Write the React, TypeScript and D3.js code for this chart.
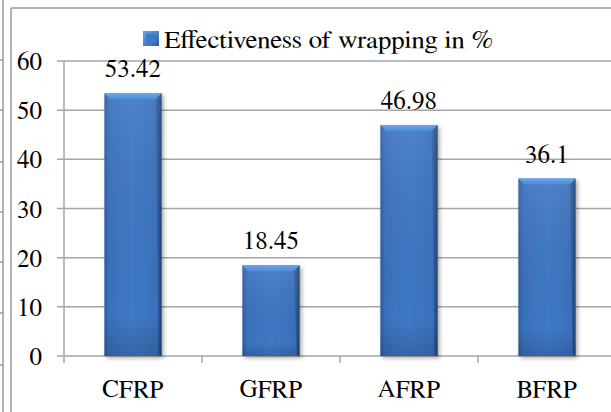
import React from "react";
import * as d3 from "d3";

const categories = ["CFRP", "GFRP", "AFRP", "BFRP"];
const values = [53.42, 18.45, 46.98, 36.1];
const valueLabels = ["53.42", "18.45", "46.98", "36.1"];
const yTicks = [0, 10, 20, 30, 40, 50, 60];
const seriesName = "Effectiveness of wrapping in %";
const frameStubs = [60, 110, 162, 212, 262, 313, 365];

export default function App() {
  const W = 611, H = 412;
  const y = d3.scaleLinear().domain([0, 60]).range([356, 61]);
  const x = d3.scaleBand<string>().domain(categories).range([64, 616]).padding(0);
  const bw = x.bandwidth() * 0.415;
  const font = "FreeSerif, 'Liberation Serif', 'Times New Roman', serif";
  const grid = "#a6a6a6";
  const fs = 25;
  return (
    <svg width={W} height={H} style={{ position: "absolute", left: 0, top: 0, background: "#fff" }}>
      <defs>
        <linearGradient id="barH" x1="0" x2="1" y1="0" y2="0">
          <stop offset="0" stopColor="#2d5d9e" />
          <stop offset="0.08" stopColor="#3a70bb" />
          <stop offset="0.5" stopColor="#3f79c6" />
          <stop offset="0.92" stopColor="#3a70bb" />
          <stop offset="1" stopColor="#234d85" />
        </linearGradient>
        <linearGradient id="barV" x1="0" x2="0" y1="0" y2="1">
          <stop offset="0" stopColor="#ffffff" stopOpacity="0.08" />
          <stop offset="0.85" stopColor="#000000" stopOpacity="0" />
          <stop offset="1" stopColor="#000000" stopOpacity="0.15" />
        </linearGradient>
        <linearGradient id="bevel" x1="0" x2="0" y1="0" y2="1">
          <stop offset="0" stopColor="#6aa5e8" />
          <stop offset="1" stopColor="#4f8bd6" />
        </linearGradient>
        <linearGradient id="legendG" x1="0" x2="1" y1="0" y2="1">
          <stop offset="0" stopColor="#6aa5e8" />
          <stop offset="1" stopColor="#2d5d9e" />
        </linearGradient>
        <filter id="shadow" x="-20%" y="-10%" width="150%" height="130%">
          <feGaussianBlur in="SourceAlpha" stdDeviation="2" />
          <feOffset dx="2" dy="2" result="ob" />
          <feComponentTransfer><feFuncA type="linear" slope="0.35" /></feComponentTransfer>
          <feMerge><feMergeNode /><feMergeNode in="SourceGraphic" /></feMerge>
        </filter>
      </defs>

      {/* outer frame pieces */}
      <line x1={3} x2={3} y1={0} y2={H} stroke="#9a9a9a" strokeWidth={1.5} />
      {frameStubs.map((s) => (
        <line key={s} x1={0} x2={3} y1={s} y2={s} stroke="#9a9a9a" strokeWidth={1.5} />
      ))}
      <line x1={11} x2={11} y1={8} y2={H} stroke="#9a9a9a" strokeWidth={1.5} />
      <line x1={11} x2={W} y1={8} y2={8} stroke="#9a9a9a" strokeWidth={1.5} />

      {/* gridlines */}
      {yTicks.map((t) => (
        <g key={t}>
          <line x1={57} x2={W} y1={y(t)} y2={y(t)} stroke={grid} strokeWidth={1.5} />
          <text x={42} y={y(t) + 9} textAnchor="end" fontFamily={font} fontSize={fs} fill="#000">
            {t}
          </text>
        </g>
      ))}
      <line x1={64} x2={64} y1={y(60)} y2={y(0) + 7} stroke={grid} strokeWidth={1.5} />
      {categories.map((c, i) =>
        i > 0 ? (
          <line key={c} x1={x(c)!} x2={x(c)!} y1={y(0)} y2={y(0) + 7} stroke={grid} strokeWidth={1.5} />
        ) : null
      )}

      {/* bars */}
      {categories.map((c, i) => {
        const cx = x(c)! + x.bandwidth() / 2;
        const x0 = cx - bw / 2;
        const top = y(values[i]);
        const h = y(0) - top;
        const bv = 6;
        return (
          <g key={c}>
            <g filter="url(#shadow)">
              <rect x={x0} y={top} width={bw} height={h} fill="url(#barH)" />
            </g>
            <rect x={x0} y={top} width={bw} height={h} fill="url(#barV)" />
            <polygon
              points={`${x0},${top} ${x0 + bw},${top} ${x0 + bw - bv},${top + bv} ${x0 + bv},${top + bv}`}
              fill="url(#bevel)"
            />
            <polygon
              points={`${x0 + bw},${top} ${x0 + bw},${top + h} ${x0 + bw - 3},${top + h - 3} ${x0 + bw - bv},${top + bv}`}
              fill="#000" opacity={0.12}
            />
            <text x={cx} y={top - 16} textAnchor="middle" fontFamily={font} fontSize={fs} fill="#000">
              {valueLabels[i]}
            </text>
            <text x={cx} y={397} textAnchor="middle" fontFamily={font} fontSize={fs} fill="#000">
              {c}
            </text>
          </g>
        );
      })}

      {/* legend */}
      <rect x={143} y={31} width={16} height={15} fill="url(#legendG)" />
      <rect x={146} y={34} width={10} height={9} fill="#3f79c6" />
      <text x={164} y={48} fontFamily={font} fontSize={fs} fill="#000" textLength={329} lengthAdjust="spacingAndGlyphs">
        {seriesName}
      </text>
    </svg>
  );
}
